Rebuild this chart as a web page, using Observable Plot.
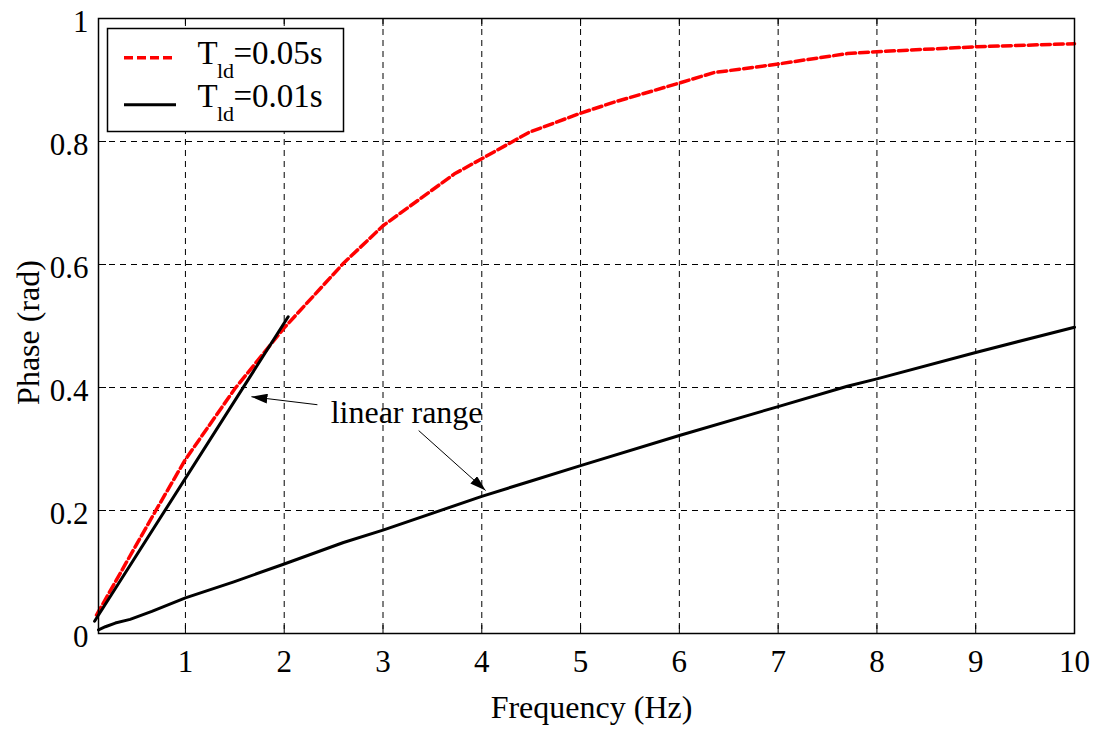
<!DOCTYPE html>
<html>
<head>
<meta charset="utf-8">
<script src="https://cdn.jsdelivr.net/npm/d3@7"></script>
<script src="https://cdn.jsdelivr.net/npm/@observablehq/plot@0.6"></script>
<style>
  html, body { margin: 0; padding: 0; background: #fff; }
  #chart { width: 1100px; height: 729px; }
</style>
</head>
<body>
<div id="chart"></div>
<script>
// ---- Data ----
const freqRed = [0.1, 0.7, 1.0, 1.5, 2.0, 2.6, 3.0, 3.72, 4.0, 4.48, 5.0, 5.34, 6.0, 6.35, 7.0, 7.7, 8.0, 9.0, 10.0];
const phaseRed = [0.03, 0.20, 0.283, 0.398, 0.497, 0.602, 0.663, 0.747, 0.772, 0.815, 0.846, 0.864, 0.895, 0.912, 0.926, 0.943, 0.946, 0.954, 0.959];

const freqBlack = [0.12, 0.19, 0.29, 0.44, 0.66, 1.0, 1.49, 2.0, 2.6, 3.0, 4.0, 4.5, 5.0, 6.0, 7.0, 7.7, 8.0, 9.0, 10.0];
const phaseBlack = [0.006, 0.011, 0.017, 0.023, 0.036, 0.058, 0.084, 0.113, 0.148, 0.168, 0.223, 0.248, 0.273, 0.322, 0.369, 0.402, 0.414, 0.457, 0.498];

const freqLinear = [0.08, 2.04];
const phaseLinear = [0.02, 0.515];

const xTicks = [1, 2, 3, 4, 5, 6, 7, 8, 9, 10];
const xTickLabels = ["1", "2", "3", "4", "5", "6", "7", "8", "9", "10"];
const yTicks = [0, 0.2, 0.4, 0.6, 0.8, 1];
const yTickLabels = ["0", "0.2", "0.4", "0.6", "0.8", "1"];

const xLabel = "Frequency (Hz)";
const yLabel = "Phase (rad)";
const legendSymbol = ["T", "T"];
const legendSub = ["ld", "ld"];
const legendValues = ["=0.05s", "=0.01s"];

const annotationText = "linear range";
const annotationX = [2.47];
const annotationY = [0.343];
const arrowX1 = [2.336, 3.361];
const arrowY1 = [0.372, 0.330];
const arrowX2 = [1.668, 4.039];
const arrowY2 = [0.385, 0.2325];

// ---- Tables built from the arrays ----
const redData = freqRed.map((f, i) => ({f, p: phaseRed[i]}));
const blackData = freqBlack.map((f, i) => ({f, p: phaseBlack[i]}));
const linearData = freqLinear.map((f, i) => ({f, p: phaseLinear[i]}));
const arrows = arrowX1.map((x1, i) => ({x1, y1: arrowY1[i], x2: arrowX2[i], y2: arrowY2[i]}));
const annotation = annotationX.map((x, i) => ({x, y: annotationY[i], label: annotationText}));

const W = 1100, H = 729;
const mL = 98, mR = 26, mT = 18, mB = 96;
const innerW = W - mL - mR, innerH = H - mT - mB;
const tickLen = 8;
const serif = '"Liberation Serif", "Times New Roman", Times, serif';

const gridStyle = {stroke: "black", strokeWidth: 1, strokeDasharray: "6,5"};
const tickStyle = {stroke: "black", strokeWidth: 1};

// Legend placement (pixels relative to the frame)
const legendBox = {insetLeft: 9, insetTop: 10, insetRight: 731, insetBottom: 502};
const legendLineY = [57.3, 104.3];
const legendBaseline = [63.5, 106.7];

const marks = [
  // grid
  Plot.ruleX(xTicks.filter(d => d < 10), gridStyle),
  Plot.ruleY(yTicks.filter(d => d > 0 && d < 1), gridStyle),
  // inward ticks on all four sides
  Plot.ruleX(xTicks, {...tickStyle, insetTop: innerH - tickLen}),
  Plot.ruleX(xTicks, {...tickStyle, insetBottom: innerH - tickLen}),
  Plot.ruleY(yTicks, {...tickStyle, insetRight: innerW - tickLen}),
  Plot.ruleY(yTicks, {...tickStyle, insetLeft: innerW - tickLen}),
  // curves
  Plot.line(blackData, {x: "f", y: "p", stroke: "black", strokeWidth: 3}),
  Plot.line(redData, {x: "f", y: "p", stroke: "#ff0000", strokeWidth: 3.5, strokeDasharray: "9,4"}),
  Plot.line(linearData, {x: "f", y: "p", stroke: "black", strokeWidth: 3}),
  // frame
  Plot.frame({stroke: "black", strokeWidth: 1.5}),
  // legend box
  Plot.frame({...legendBox, fill: "white", stroke: "black", strokeWidth: 1.5}),
  Plot.ruleY([0], {y: null, dy: legendLineY[0] - (mT + innerH / 2), insetLeft: 26, insetRight: innerW - 75,
    stroke: "#ff0000", strokeWidth: 3.5, strokeDasharray: "9,4"}),
  Plot.ruleY([0], {y: null, dy: legendLineY[1] - (mT + innerH / 2), insetLeft: 26, insetRight: innerW - 78,
    stroke: "black", strokeWidth: 3}),
];

legendValues.forEach((v, i) => {
  marks.push(
    Plot.text([legendSymbol[i]], {frameAnchor: "top-left", textAnchor: "start", lineAnchor: "bottom",
      dx: 99, dy: legendBaseline[i] - mT, fontSize: 33, fontFamily: serif}),
    Plot.text([legendSub[i]], {frameAnchor: "top-left", textAnchor: "start", lineAnchor: "bottom",
      dx: 118.5, dy: legendBaseline[i] - mT + 13.5, fontSize: 22, fontFamily: serif}),
    Plot.text([v], {frameAnchor: "top-left", textAnchor: "start", lineAnchor: "bottom",
      dx: 135, dy: legendBaseline[i] - mT, fontSize: 33, fontFamily: serif})
  );
});

marks.push(
  // annotation
  Plot.link(arrows, {x1: "x1", y1: "y1", x2: "x2", y2: "y2", stroke: "black", strokeWidth: 1}),
  Plot.text(annotation, {x: "x", y: "y", text: "label", textAnchor: "start", lineAnchor: "bottom", fontSize: 32}),
  // tick labels
  Plot.text(xTicks, {x: d => d, text: (d, i) => xTickLabels[i], frameAnchor: "bottom", textAnchor: "middle",
    lineAnchor: "bottom", dy: 38, fontSize: 31}),
  Plot.text(yTicks, {y: d => d, text: (d, i) => yTickLabels[i], frameAnchor: "left", textAnchor: "end",
    lineAnchor: "bottom", dx: -10, dy: 13, fontSize: 31}),
  // axis titles
  Plot.text([xLabel], {frameAnchor: "bottom", textAnchor: "middle", lineAnchor: "bottom", dx: 5, dy: 84, fontSize: 32}),
  Plot.text([yLabel], {frameAnchor: "left", textAnchor: "middle", lineAnchor: "bottom", rotate: -90,
    dx: -60, dy: 6.5, fontSize: 32})
);

const chart = Plot.plot({
  width: W,
  height: H,
  marginLeft: mL,
  marginRight: mR,
  marginTop: mT,
  marginBottom: mB,
  x: {domain: [0.12, 10], axis: null},
  y: {domain: [0, 1], axis: null},
  style: {fontFamily: serif, fontSize: "31px", background: "white", color: "black", overflow: "visible"},
  marks
});

document.getElementById("chart").appendChild(chart);

// filled arrowheads for the annotation links
const svg = d3.select(chart.tagName.toLowerCase() === "svg" ? chart : chart.querySelector("svg"));
const marker = svg.insert("defs", ":first-child").append("marker")
  .attr("id", "annot-arrowhead")
  .attr("viewBox", "-16 -5 16 10")
  .attr("refX", 0).attr("refY", 0)
  .attr("markerWidth", 16).attr("markerHeight", 10)
  .attr("markerUnits", "userSpaceOnUse")
  .attr("orient", "auto");
marker.append("path").attr("d", "M-16,-5L0,0L-16,5Z").attr("fill", "black");
svg.selectAll('g[aria-label="link"] path').attr("marker-end", "url(#annot-arrowhead)");
</script>
</body>
</html>
